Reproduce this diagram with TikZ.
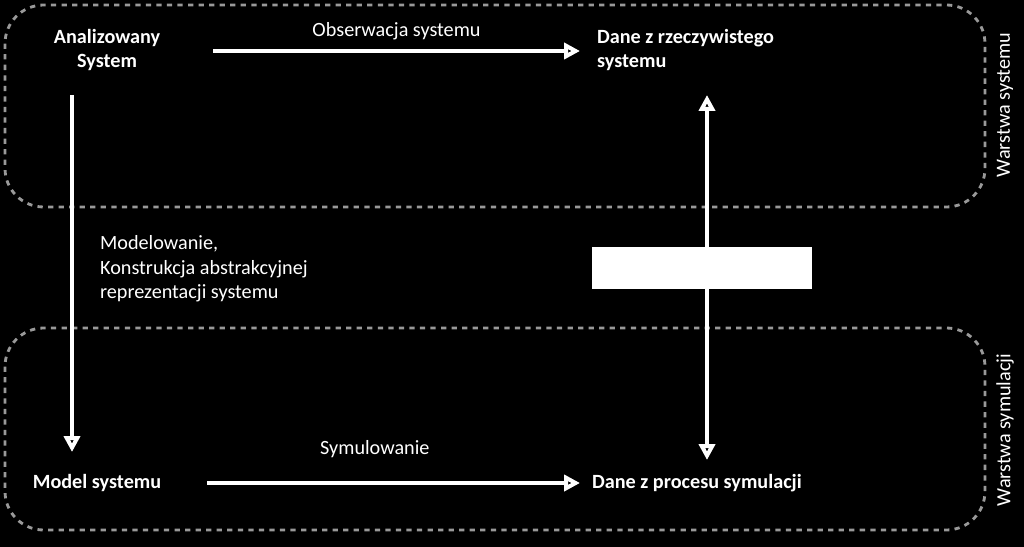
\documentclass[tikz,border=0pt]{standalone}
\usepackage{fontspec}
\setmainfont{Carlito}
\usetikzlibrary{arrows.meta}
\begin{document}
\begin{tikzpicture}[x=0.02cm,y=-0.02cm,
    layer/.style={draw=gray!80,dashed,line width=1.6pt,rounded corners=22pt},
    item/.style={text=white,font=\fontsize{11.5}{14}\selectfont\bfseries,align=left,inner sep=1pt},
    txt/.style={text=white,font=\fontsize{11.5}{14}\selectfont,align=left,inner sep=1pt},
    flow/.style={-{Triangle[length=9pt,width=9pt,open]},white,line width=2.5pt}]

    % background
    \fill[black] (0,0) rectangle (1024,547);
    \useasboundingbox (0,0) rectangle (1024,547);

    % the layers
    \draw[layer] (5,5) rectangle (985,207);
    \draw[layer] (5,328) rectangle (985,530);
    \node[txt,rotate=90] (ls) at (1005,105) {Warstwa systemu};
    \node[txt,rotate=90] (lm) at (1005,430) {Warstwa symulacji};

    % the texts
    \node[item,align=center] (as) at (107,50) {Analizowany\\System};
    \node[item,anchor=west] (dr) at (595,50) {Dane z rzeczywistego\\systemu};
    \node[item] (ms) at (97,483) {Model systemu};
    \node[item,anchor=west] (ds) at (590,483) {Dane z procesu symulacji};
    \node[fill=white,minimum width=4.4cm,minimum height=0.86cm,inner sep=0] (box) at (702,268) {};

    \coordinate (a1) at (213,51);
    \coordinate (a2) at (580,51);
    \coordinate (b1) at (72,95);
    \coordinate (b2) at (72,452);
    \coordinate (c1) at (207,483);
    \coordinate (c2) at (580,483);
    \coordinate (d1) at (707,95);
    \coordinate (d2) at (707,460);

    \draw[flow] (a1) -- node[txt,above=4pt]{Obserwacja systemu} (a2);
    \draw[flow] (b1) -- (b2);
    \node[txt,anchor=west] (mod) at (98,269) {Modelowanie,\\Konstrukcja abstrakcyjnej\\reprezentacji systemu};
    \draw[flow] (c1) -- node[txt,above=12pt,pos=0.45]{Symulowanie} (c2);
    \draw[flow,{Triangle[length=9pt,width=9pt,open]}-{Triangle[length=9pt,width=9pt,open]}] (d1) -- (d2);
    \node[fill=white,minimum width=4.4cm,minimum height=0.86cm,inner sep=0] at (box) {};
\end{tikzpicture}
\end{document}
